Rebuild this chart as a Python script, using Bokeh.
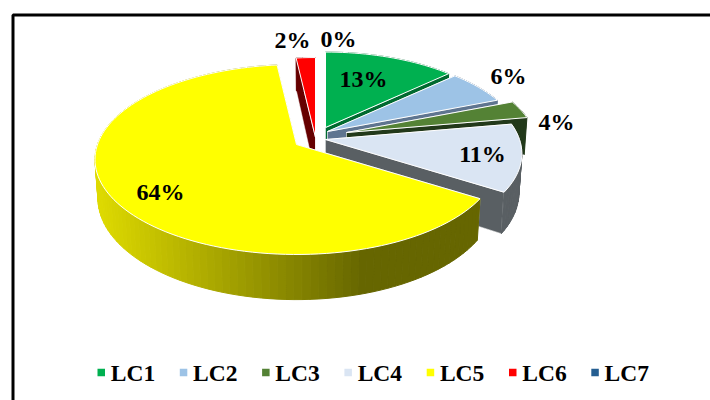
import math
from bokeh.plotting import figure
from bokeh.models import Range1d
from bokeh.core.properties import value
from bokeh.embed import file_html
from bokeh.resources import INLINE

# ---- data ----
categories = ["LC1", "LC2", "LC3", "LC4", "LC5", "LC6", "LC7"]
shares = [13, 6, 3.2, 11.8, 64.2, 1.8, 0]
pct_labels = ["13%", "6%", "4%", "11%", "64%", "2%", "0%"]
top_colors = ["#00b050", "#9dc3e6", "#548235", "#dae5f3", "#ffff00", "#ff0000", "#255e91"]
side_colors = ["#006a30", "#5f7590", "#22391a", "#595f63", "#666600", "#660000", "#16384f"]

# ---- layout: 3D projection of the pie ----
W, H = 710, 400
PAGE = 0
RX, RY, PERSP = 199.0, 92.6, 0.158
DEPTH = 38.0
SHRINK = 0.985
apex = [(325, 127), (327, 131), (346, 132), (325, 139), (296, 144), (315, 137), (323, 137)]
radius = [0.935, 0.97, 0.945, 0.975, 1.0, 1.0, 1.0]
draw_order = [0, 1, 2, 3, 5, 4]
label_xy = [(363, 78.5), (508, 75.5), (556, 121), (482, 153.5), (160, 191.5), (292, 39.5), (338, 38.5)]
legend_x0, legend_dx, legend_y = 100.75, 82.3, 372
FONT = "Liberation Serif"

p = figure(width=W, height=H, output_backend="svg", toolbar_location=None,
           x_range=Range1d(PAGE, PAGE + W), y_range=Range1d(PAGE + H, PAGE),
           min_border=0, outline_line_color=None, background_fill_color="white")
p.axis.visible = False
p.grid.visible = False


def project(ax, ay, r, deg):
    a = math.radians(deg)
    u, v = r * math.sin(a), -r * math.cos(a)
    k = 1.0 / (1.0 - PERSP * v)
    return ax + RX * u * k, ay + RY * v * k, DEPTH * k


def lower(ax, x, y, d):
    return ax + (x - ax) * SHRINK, y + d


def mix(c1, c2, t):
    c = [int(round(a + (b - a) * t)) for a, b in zip(c1, c2)]
    return "#%02x%02x%02x" % tuple(c)


total = sum(shares)
start = [sum(shares[:i]) * 360.0 / total for i in range(len(shares))]
for i in draw_order:
    a0, a1 = start[i], start[i] + shares[i] * 360.0 / total
    ax, ay = apex[i]
    r = radius[i]
    n = max(2, int((a1 - a0) / 2) + 1)
    angles = [a0 + (a1 - a0) * t / (n - 1) for t in range(n)]
    pts = [project(ax, ay, r, a) for a in angles]
    low = [lower(ax, x, y, d) for x, y, d in pts]
    apex_d = DEPTH
    # cut faces
    for j in (0, -1):
        xs = [ax, pts[j][0], low[j][0], ax]
        ys = [ay, pts[j][1], low[j][1], ay + apex_d]
        p.patch(xs, ys, fill_color=side_colors[i], line_color="white", line_width=0.5)
    # outer wall
    for j in range(n - 1):
        if i == 4:
            xm = 0.5 * (pts[j][0] + pts[j + 1][0])
            t = min(1.0, max(0.0, (xm - 97) / 266.0))
            col = mix((222, 218, 0), (102, 102, 0), t)
        else:
            col = side_colors[i]
        p.patch([pts[j][0], pts[j + 1][0], low[j + 1][0], low[j][0]],
                [pts[j][1], pts[j + 1][1], low[j + 1][1], low[j][1]],
                fill_color=col, line_color=col, line_width=1)
    # top face
    p.patch([ax] + [q[0] for q in pts], [ay] + [q[1] for q in pts],
            fill_color=top_colors[i], line_color="white", line_width=1)

# percentage labels
p.text([q[0] for q in label_xy], [q[1] for q in label_xy], text=pct_labels,
       text_font=value(FONT), text_font_style="bold", text_font_size="24px",
       text_color="black", text_align="center", text_baseline="middle")

# legend
lx = [legend_x0 + legend_dx * i for i in range(len(categories))]
p.scatter(lx, [legend_y] * len(lx), marker="square", size=7.5, color=top_colors, line_color=None)
p.text([x + 9.5 for x in lx], [legend_y] * len(lx), text=categories,
       text_font=value(FONT), text_font_style="bold", text_font_size="23.5px",
       text_color="black", text_align="left", text_baseline="middle")

# frame of the picture
p.line([12.5, 12.5, PAGE + W], [PAGE + H, 14.5, 14.5], line_color="black", line_width=3)

open("out.html", "w").write(file_html(p, INLINE))
